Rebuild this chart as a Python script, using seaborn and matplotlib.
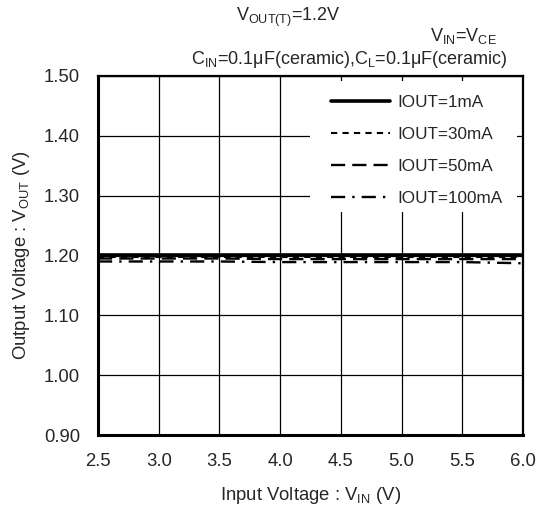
import numpy as np
import pandas as pd
import matplotlib
matplotlib.use("Agg")
import matplotlib.pyplot as plt
from matplotlib.patches import Rectangle
import seaborn as sns

# input voltage (V) and output voltage (V) for each load current
vin = [2.5, 3.0, 3.5, 4.0, 4.5, 5.0, 5.5, 6.0]
vout_1ma = [1.201, 1.201, 1.201, 1.201, 1.201, 1.201, 1.201, 1.201]
vout_30ma = [1.198, 1.198, 1.198, 1.198, 1.198, 1.198, 1.198, 1.198]
vout_50ma = [1.195, 1.195, 1.195, 1.194, 1.194, 1.194, 1.194, 1.194]
vout_100ma = [1.190, 1.190, 1.190, 1.189, 1.189, 1.189, 1.189, 1.187]
labels = ["IOUT=1mA", "IOUT=30mA", "IOUT=50mA", "IOUT=100mA"]

xticks = [2.5, 3.0, 3.5, 4.0, 4.5, 5.0, 5.5, 6.0]
yticks = [0.90, 1.00, 1.10, 1.20, 1.30, 1.40, 1.50]

rows = []
for lab, vals in zip(labels, [vout_1ma, vout_30ma, vout_50ma, vout_100ma]):
    for x, y in zip(vin, vals):
        rows.append({"vin": x, "vout": y, "load": lab})
df = pd.DataFrame(rows)

sns.set_style("white")
plt.rcParams["font.family"] = ["Liberation Sans", "DejaVu Sans"]
plt.rcParams["mathtext.fontset"] = "custom"
plt.rcParams["mathtext.rm"] = "Liberation Sans"
plt.rcParams["mathtext.it"] = "Liberation Sans"
plt.rcParams["mathtext.default"] = "rm"

fs = 13.3
fig = plt.figure(figsize=(5.44, 5.11), dpi=100)
ax = fig.add_axes([98 / 544, 1 - 435 / 511, 425 / 544, 359 / 511])

dashes = {labels[0]: "", labels[1]: (3, 2.5), labels[2]: (6, 3),
          labels[3]: (6, 3, 1, 3)}
widths = {labels[0]: 2.6, labels[1]: 1.5, labels[2]: 1.7, labels[3]: 1.7}
for lab in labels:
    sub = df[df["load"] == lab]
    sns.lineplot(data=sub, x="vin", y="vout", ax=ax, color="black",
                 linewidth=widths[lab], label=lab, zorder=3)
    ln = ax.lines[-1]
    if dashes[lab]:
        ln.set_dashes(dashes[lab])

ax.set_xlim(2.5, 6.0)
ax.set_ylim(0.90, 1.50)
ax.set_xticks(xticks)
ax.set_yticks(yticks)
ax.set_xticklabels([f"{v:.1f}" for v in xticks], fontsize=fs)
ax.set_yticklabels([f"{v:.2f}" for v in yticks], fontsize=fs)
ax.tick_params(axis="x", direction="in", length=0, pad=13)
ax.tick_params(axis="y", direction="in", length=0, pad=13)
ax.set_axisbelow(True)
ax.grid(True, color="black", linewidth=0.9)
for s in ax.spines.values():
    s.set_color("black")
    s.set_linewidth(1.6)
ax.spines["left"].set_linewidth(2.2)
ax.spines["bottom"].set_linewidth(2.2)

# white box behind legend hides the grid
ax.add_patch(Rectangle((0.499, 0.62), 0.487, 0.365, transform=ax.transAxes,
                       facecolor="white", edgecolor="none", zorder=1))

leg = ax.legend(loc="upper right", bbox_to_anchor=(0.987, 0.99), frameon=False,
                fontsize=12.3, handlelength=3.45, handletextpad=0.4,
                labelspacing=1.0)
leg.set_zorder(4)

ax.set_xlabel(r"Input Voltage : V$_{IN}$ (V)", fontsize=fs)
ax.set_ylabel(r"Output Voltage : V$_{OUT}$ (V)", fontsize=fs)
ax.xaxis.set_label_coords(0.5, (435 - 495) / 359)
ax.xaxis.label.set_va("center")
ax.yaxis.set_label_coords((22 - 98) / 425, 0.5)
ax.yaxis.label.set_va("center")

fig.text(288 / 544, 1 - 17 / 511, r"V$_{OUT(T)}$=1.2V", fontsize=13,
         ha="center", va="center")
fig.text(497 / 544, 1 - 36 / 511, r"V$_{IN}$=V$_{CE}$", fontsize=13,
         ha="right", va="center")
fig.text(508 / 544, 1 - 59 / 511,
         r"C$_{IN}$=0.1μF(ceramic),C$_{L}$=0.1μF(ceramic)", fontsize=13,
         ha="right", va="center")

fig.savefig("out.png", dpi=100)
